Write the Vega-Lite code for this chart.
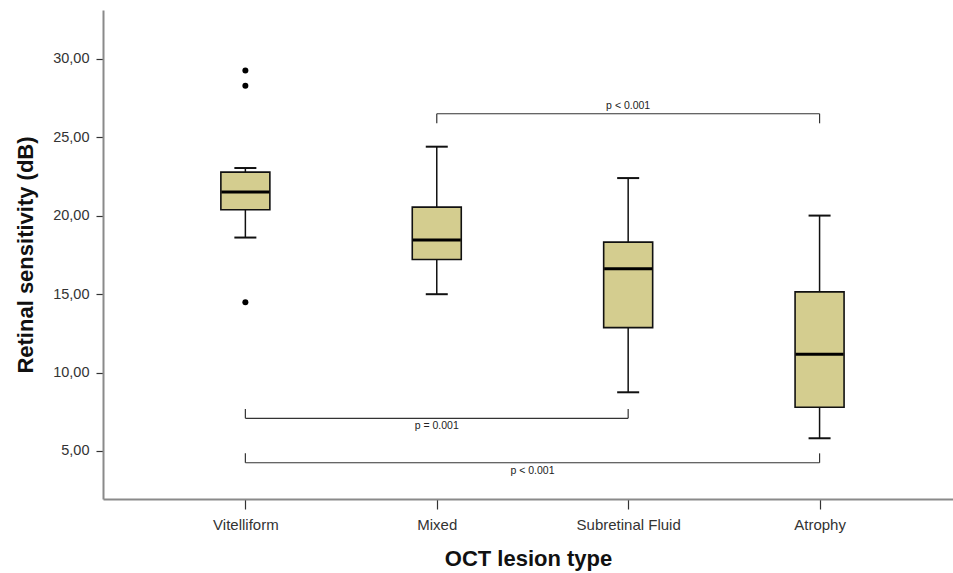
{
  "$schema": "https://vega.github.io/schema/vega-lite/v6.json",
  "width": 850,
  "height": 489,
  "autosize": "none",
  "padding": {"left": 103, "top": 10, "right": 0, "bottom": 74},
  "background": "white",
  "config": {
    "view": {"stroke": null},
    "font": "Liberation Sans",
    "axis": {
      "titleFont": "Liberation Sans", "titleFontSize": 22, "titleFontWeight": "bold", "titleColor": "#111",
      "labelFont": "Liberation Sans", "labelColor": "#333",
      "tickColor": "#333", "tickWidth": 1.2,
      "domainColor": "#8a8a8a", "domainWidth": 2,
      "grid": false
    },
    "axisX": {"labelFontSize": 15, "labelAngle": 0, "labelPadding": 8, "tickSize": 10, "titlePadding": 16},
    "axisY": {"labelFontSize": 14.5, "labelPadding": 7, "tickSize": 7, "titlePadding": 15}
  },
  "datasets": {
    "boxes": [
      {"type": "Vitelliform", "pos": 1, "lower": 18.6, "q1": 20.37, "median": 21.5, "q3": 22.77, "upper": 23.03},
      {"type": "Mixed", "pos": 2, "lower": 14.99, "q1": 17.2, "median": 18.44, "q3": 20.54, "upper": 24.39},
      {"type": "Subretinal Fluid", "pos": 3, "lower": 8.74, "q1": 12.86, "median": 16.61, "q3": 18.31, "upper": 22.39},
      {"type": "Atrophy", "pos": 4, "lower": 5.81, "q1": 7.79, "median": 11.17, "q3": 15.14, "upper": 20.0}
    ],
    "outliers": [
      {"type": "Vitelliform", "pos": 1, "value": 29.25},
      {"type": "Vitelliform", "pos": 1, "value": 28.28},
      {"type": "Vitelliform", "pos": 1, "value": 14.48}
    ],
    "brackets": [
      {"from": 2, "to": 4, "y": 26.49, "yEnd": 25.88, "label": "p < 0.001"},
      {"from": 1, "to": 3, "y": 7.08, "yEnd": 7.68, "label": "p = 0.001"},
      {"from": 1, "to": 4, "y": 4.25, "yEnd": 4.85, "label": "p < 0.001"}
    ]
  },
  "layer": [
    {
      "data": {"name": "boxes"},
      "mark": {"type": "rule", "color": "#111", "strokeWidth": 1.5},
      "encoding": {
        "x": {"field": "pos", "type": "quantitative", "scale": {"domain": [0.2823, 4.671], "nice": false, "zero": false},
              "axis": {"title": "OCT lesion type", "values": [1, 2, 3, 4], "labelExpr": "['', 'Vitelliform', 'Mixed', 'Subretinal Fluid', 'Atrophy'][datum.value]"}},
        "y": {"field": "lower", "type": "quantitative", "scale": {"domain": [1.94, 33.1], "nice": false, "zero": false},
              "axis": {"title": "Retinal sensitivity (dB)", "values": [5, 10, 15, 20, 25, 30], "labelExpr": "replace(format(datum.value, '.2f'), '.', ',')"}},
        "y2": {"field": "upper"}
      }
    },
    {
      "data": {"name": "boxes"},
      "mark": {"type": "bar", "size": 49, "orient": "vertical", "fill": "#d4cd8f", "stroke": "#111", "strokeWidth": 1.6},
      "encoding": {
        "x": {"field": "pos", "type": "quantitative", "scale": {"domain": [0.2823, 4.671], "nice": false, "zero": false},
              "axis": {"title": "OCT lesion type", "values": [1, 2, 3, 4], "labelExpr": "['', 'Vitelliform', 'Mixed', 'Subretinal Fluid', 'Atrophy'][datum.value]"}},
        "y": {"field": "q1", "type": "quantitative", "scale": {"domain": [1.94, 33.1], "nice": false, "zero": false},
              "axis": {"title": "Retinal sensitivity (dB)", "values": [5, 10, 15, 20, 25, 30], "labelExpr": "replace(format(datum.value, '.2f'), '.', ',')"}},
        "y2": {"field": "q3"}
      }
    },
    {
      "data": {"name": "boxes"},
      "mark": {"type": "tick", "orient": "horizontal", "size": 48, "thickness": 3, "color": "#000", "opacity": 1},
      "encoding": {
        "x": {"field": "pos", "type": "quantitative", "scale": {"domain": [0.2823, 4.671], "nice": false, "zero": false},
              "axis": {"title": "OCT lesion type", "values": [1, 2, 3, 4], "labelExpr": "['', 'Vitelliform', 'Mixed', 'Subretinal Fluid', 'Atrophy'][datum.value]"}},
        "y": {"field": "median", "type": "quantitative", "scale": {"domain": [1.94, 33.1], "nice": false, "zero": false},
              "axis": {"title": "Retinal sensitivity (dB)", "values": [5, 10, 15, 20, 25, 30], "labelExpr": "replace(format(datum.value, '.2f'), '.', ',')"}}
      }
    },
    {
      "data": {"name": "boxes"},
      "mark": {"type": "tick", "orient": "horizontal", "size": 22, "thickness": 2, "color": "#111", "opacity": 1},
      "encoding": {
        "x": {"field": "pos", "type": "quantitative", "scale": {"domain": [0.2823, 4.671], "nice": false, "zero": false},
              "axis": {"title": "OCT lesion type", "values": [1, 2, 3, 4], "labelExpr": "['', 'Vitelliform', 'Mixed', 'Subretinal Fluid', 'Atrophy'][datum.value]"}},
        "y": {"field": "lower", "type": "quantitative", "scale": {"domain": [1.94, 33.1], "nice": false, "zero": false},
              "axis": {"title": "Retinal sensitivity (dB)", "values": [5, 10, 15, 20, 25, 30], "labelExpr": "replace(format(datum.value, '.2f'), '.', ',')"}}
      }
    },
    {
      "data": {"name": "boxes"},
      "mark": {"type": "tick", "orient": "horizontal", "size": 22, "thickness": 2, "color": "#111", "opacity": 1},
      "encoding": {
        "x": {"field": "pos", "type": "quantitative", "scale": {"domain": [0.2823, 4.671], "nice": false, "zero": false},
              "axis": {"title": "OCT lesion type", "values": [1, 2, 3, 4], "labelExpr": "['', 'Vitelliform', 'Mixed', 'Subretinal Fluid', 'Atrophy'][datum.value]"}},
        "y": {"field": "upper", "type": "quantitative", "scale": {"domain": [1.94, 33.1], "nice": false, "zero": false},
              "axis": {"title": "Retinal sensitivity (dB)", "values": [5, 10, 15, 20, 25, 30], "labelExpr": "replace(format(datum.value, '.2f'), '.', ',')"}}
      }
    },
    {
      "data": {"name": "outliers"},
      "mark": {"type": "circle", "size": 36, "color": "#000", "opacity": 1},
      "encoding": {
        "x": {"field": "pos", "type": "quantitative", "scale": {"domain": [0.2823, 4.671], "nice": false, "zero": false},
              "axis": {"title": "OCT lesion type", "values": [1, 2, 3, 4], "labelExpr": "['', 'Vitelliform', 'Mixed', 'Subretinal Fluid', 'Atrophy'][datum.value]"}},
        "y": {"field": "value", "type": "quantitative", "scale": {"domain": [1.94, 33.1], "nice": false, "zero": false},
              "axis": {"title": "Retinal sensitivity (dB)", "values": [5, 10, 15, 20, 25, 30], "labelExpr": "replace(format(datum.value, '.2f'), '.', ',')"}}
      }
    },
    {
      "data": {"name": "brackets"},
      "mark": {"type": "rule", "color": "#333", "strokeWidth": 1.2},
      "encoding": {
        "x": {"field": "from", "type": "quantitative", "scale": {"domain": [0.2823, 4.671], "nice": false, "zero": false},
              "axis": {"title": "OCT lesion type", "values": [1, 2, 3, 4], "labelExpr": "['', 'Vitelliform', 'Mixed', 'Subretinal Fluid', 'Atrophy'][datum.value]"}},
        "x2": {"field": "to"},
        "y": {"field": "y", "type": "quantitative", "scale": {"domain": [1.94, 33.1], "nice": false, "zero": false},
              "axis": {"title": "Retinal sensitivity (dB)", "values": [5, 10, 15, 20, 25, 30], "labelExpr": "replace(format(datum.value, '.2f'), '.', ',')"}}
      }
    },
    {
      "data": {"name": "brackets"},
      "mark": {"type": "rule", "color": "#333", "strokeWidth": 1.2},
      "encoding": {
        "x": {"field": "from", "type": "quantitative", "scale": {"domain": [0.2823, 4.671], "nice": false, "zero": false},
              "axis": {"title": "OCT lesion type", "values": [1, 2, 3, 4], "labelExpr": "['', 'Vitelliform', 'Mixed', 'Subretinal Fluid', 'Atrophy'][datum.value]"}},
        "y": {"field": "y", "type": "quantitative", "scale": {"domain": [1.94, 33.1], "nice": false, "zero": false},
              "axis": {"title": "Retinal sensitivity (dB)", "values": [5, 10, 15, 20, 25, 30], "labelExpr": "replace(format(datum.value, '.2f'), '.', ',')"}},
        "y2": {"field": "yEnd"}
      }
    },
    {
      "data": {"name": "brackets"},
      "mark": {"type": "rule", "color": "#333", "strokeWidth": 1.2},
      "encoding": {
        "x": {"field": "to", "type": "quantitative", "scale": {"domain": [0.2823, 4.671], "nice": false, "zero": false},
              "axis": {"title": "OCT lesion type", "values": [1, 2, 3, 4], "labelExpr": "['', 'Vitelliform', 'Mixed', 'Subretinal Fluid', 'Atrophy'][datum.value]"}},
        "y": {"field": "y", "type": "quantitative", "scale": {"domain": [1.94, 33.1], "nice": false, "zero": false},
              "axis": {"title": "Retinal sensitivity (dB)", "values": [5, 10, 15, 20, 25, 30], "labelExpr": "replace(format(datum.value, '.2f'), '.', ',')"}},
        "y2": {"field": "yEnd"}
      }
    },
    {
      "data": {"name": "brackets"},
      "transform": [{"filter": "datum.y > 20"}, {"calculate": "(datum.from + datum.to) / 2", "as": "mid"}],
      "mark": {"type": "text", "font": "Liberation Sans", "fontSize": 10.5, "color": "#222", "baseline": "bottom", "dy": -3},
      "encoding": {
        "x": {"field": "mid", "type": "quantitative", "scale": {"domain": [0.2823, 4.671], "nice": false, "zero": false},
              "axis": {"title": "OCT lesion type", "values": [1, 2, 3, 4], "labelExpr": "['', 'Vitelliform', 'Mixed', 'Subretinal Fluid', 'Atrophy'][datum.value]"}},
        "y": {"field": "y", "type": "quantitative", "scale": {"domain": [1.94, 33.1], "nice": false, "zero": false},
              "axis": {"title": "Retinal sensitivity (dB)", "values": [5, 10, 15, 20, 25, 30], "labelExpr": "replace(format(datum.value, '.2f'), '.', ',')"}},
        "text": {"field": "label"}
      }
    },
    {
      "data": {"name": "brackets"},
      "transform": [{"filter": "datum.y < 20"}, {"calculate": "(datum.from + datum.to) / 2", "as": "mid"}],
      "mark": {"type": "text", "font": "Liberation Sans", "fontSize": 10.5, "color": "#222", "baseline": "top", "dy": 3},
      "encoding": {
        "x": {"field": "mid", "type": "quantitative", "scale": {"domain": [0.2823, 4.671], "nice": false, "zero": false},
              "axis": {"title": "OCT lesion type", "values": [1, 2, 3, 4], "labelExpr": "['', 'Vitelliform', 'Mixed', 'Subretinal Fluid', 'Atrophy'][datum.value]"}},
        "y": {"field": "y", "type": "quantitative", "scale": {"domain": [1.94, 33.1], "nice": false, "zero": false},
              "axis": {"title": "Retinal sensitivity (dB)", "values": [5, 10, 15, 20, 25, 30], "labelExpr": "replace(format(datum.value, '.2f'), '.', ',')"}},
        "text": {"field": "label"}
      }
    }
  ]
}
